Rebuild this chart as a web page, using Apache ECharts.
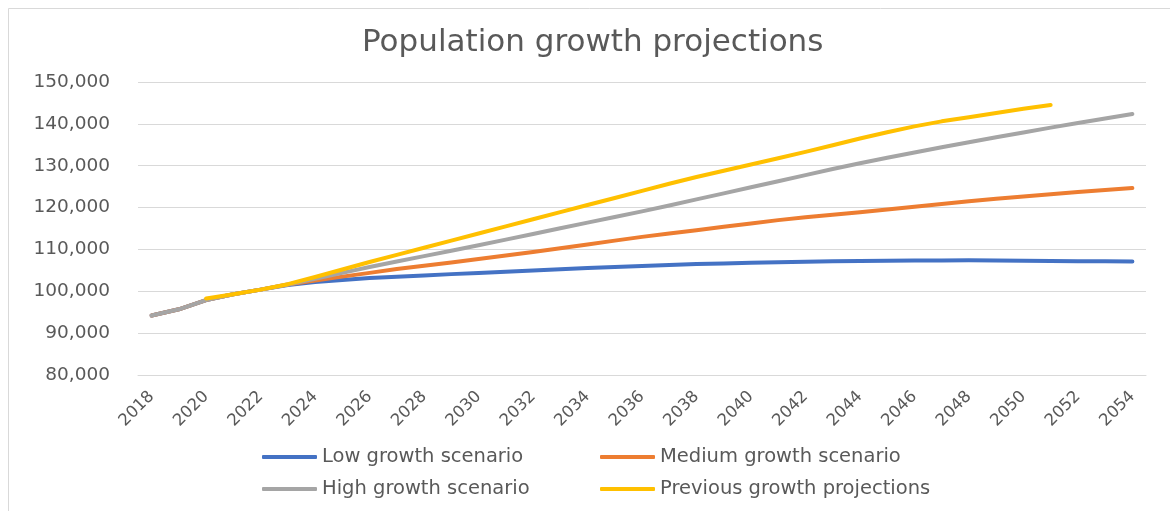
<!DOCTYPE html>
<html>
<head>
<meta charset="utf-8">
<style>
  html, body { margin: 0; padding: 0; background: #ffffff; }
  #chart { width: 1170px; height: 511px; }
</style>
<script src="https://cdn.jsdelivr.net/npm/echarts@6/dist/echarts.min.js"></script>
</head>
<body>
<div id="chart"></div>
<script>
// Years on the category axis
const years = [
  '2018','2019','2020','2021','2022','2023','2024','2025','2026','2027',
  '2028','2029','2030','2031','2032','2033','2034','2035','2036','2037',
  '2038','2039','2040','2041','2042','2043','2044','2045','2046','2047',
  '2048','2049','2050','2051','2052','2053','2054'
];

// Projected population, one value per year
const lowGrowth = [
  94200, 95700, 97900, 99300, 100400, 101500, 102200, 102700, 103150, 103500,
  103800, 104100, 104350, 104650, 104950, 105250, 105550, 105800, 106050, 106300,
  106500, 106650, 106800, 106950, 107050, 107150, 107250, 107300, 107350, 107350,
  107400, 107350, 107300, 107250, 107200, 107150, 107100
];
const mediumGrowth = [
  94200, 95700, 97900, 99300, 100400, 101600, 102600, 103500, 104400, 105300,
  106100, 106900, 107700, 108550, 109400, 110300, 111200, 112100, 113000, 113800,
  114600, 115400, 116200, 117000, 117700, 118300, 118900, 119550, 120200, 120850,
  121500, 122100, 122650, 123200, 123700, 124200, 124650
];
const highGrowth = [
  94200, 95700, 97900, 99300, 100400, 101600, 103000, 104400, 105800, 107100,
  108400, 109700, 111000, 112350, 113700, 115050, 116400, 117750, 119100, 120500,
  121950, 123400, 124850, 126300, 127750, 129200, 130600, 131900, 133150, 134400,
  135600, 136800, 137950, 139100, 140200, 141300, 142350
];
const previousProjections = [
  null, null, 98300, 99300, 100400, 101700, 103400, 105200, 107000, 108700,
  110400, 112100, 113800, 115500, 117200, 118900, 120600, 122300, 124000, 125700,
  127300, 128800, 130300, 131800, 133300, 134900, 136500, 138000, 139400, 140600,
  141600, 142600, 143600, 144500, null, null, null
];

const seriesNames = [
  'Low growth scenario',
  'Medium growth scenario',
  'High growth scenario',
  'Previous growth projections'
];
const seriesColors = ['#4472C4', '#ED7D31', '#A5A5A5', '#FFC000'];
const seriesData = [lowGrowth, mediumGrowth, highGrowth, previousProjections];

const textColor = '#595959';
const gridColor = '#d9d9d9';
const font = 'DejaVu Sans';

// One legend block per entry, laid out as two rows of two
const legendSlots = [
  { left: 262, top: 447 },
  { left: 600, top: 447 },
  { left: 262, top: 479 },
  { left: 600, top: 479 }
];

const chart = echarts.init(document.getElementById('chart'), null, { renderer: 'canvas' });

chart.setOption({
  backgroundColor: '#ffffff',
  animation: false,
  title: {
    text: 'Population growth projections',
    left: 362,
    top: 27,
    padding: 0,
    textStyle: { fontFamily: font, fontSize: 31, fontWeight: 'normal', color: textColor }
  },
  graphic: [{
    type: 'rect',
    shape: { x: 8.5, y: 8.5, width: 1200, height: 600 },
    style: { fill: 'none', stroke: gridColor, lineWidth: 1 },
    silent: true,
    z: -1
  }],
  legend: seriesNames.map((name, i) => ({
    data: [name],
    left: legendSlots[i].left,
    top: legendSlots[i].top,
    padding: 0,
    icon: 'roundRect',
    itemWidth: 55,
    itemHeight: 4,
    itemGap: 5,
    selectedMode: false,
    textStyle: { fontFamily: font, fontSize: 19.5, color: textColor }
  })),
  grid: { left: 138, right: 24, top: 82, bottom: 136, containLabel: false },
  xAxis: {
    type: 'category',
    data: years,
    boundaryGap: true,
    axisLine: { show: true, lineStyle: { color: gridColor, width: 1 } },
    axisTick: { show: false },
    axisLabel: {
      interval: 1,
      rotate: 45,
      margin: 19,
      fontFamily: font,
      fontSize: 16.5,
      color: textColor
    },
    splitLine: { show: false }
  },
  yAxis: {
    type: 'value',
    min: 80000,
    max: 150000,
    interval: 10000,
    axisLine: { show: false },
    axisTick: { show: false },
    axisLabel: {
      margin: 28,
      fontFamily: font,
      fontSize: 18.5,
      color: textColor,
      formatter: v => v.toLocaleString('en-US')
    },
    splitLine: { show: true, lineStyle: { color: gridColor, width: 1 } }
  },
  series: seriesNames.map((name, i) => ({
    name: name,
    type: 'line',
    data: seriesData[i],
    symbol: 'none',
    smooth: false,
    connectNulls: false,
    color: seriesColors[i],
    lineStyle: { width: 4, color: seriesColors[i], cap: 'round', join: 'round' },
    emphasis: { disabled: true }
  }))
});
</script>
</body>
</html>
